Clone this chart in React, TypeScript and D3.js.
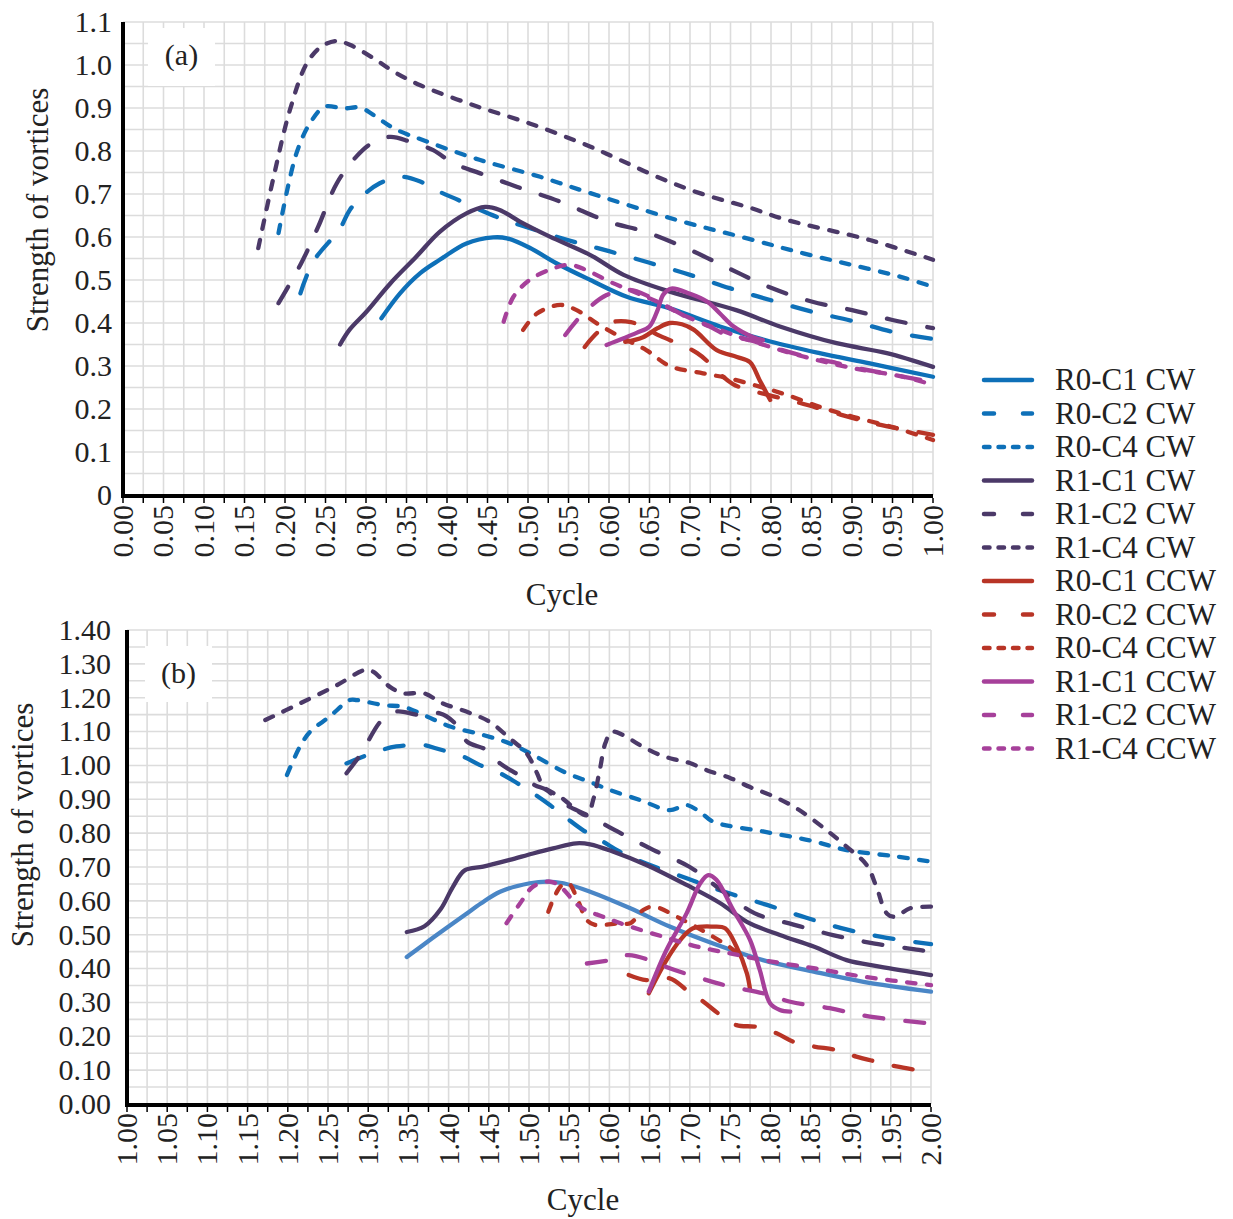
import React from 'react';
import * as d3 from 'd3';

// ---------- legend / series ----------
const seriesNames = ['R0-C1 CW', 'R0-C2 CW', 'R0-C4 CW', 'R1-C1 CW', 'R1-C2 CW', 'R1-C4 CW',
  'R0-C1 CCW', 'R0-C2 CCW', 'R0-C4 CCW', 'R1-C1 CCW', 'R1-C2 CCW', 'R1-C4 CCW'];

// ---------- panel (a) : cycle 0 - 1 ----------
const aR0C1cwX = [0.319, 0.342, 0.367, 0.391, 0.424, 0.457, 0.474, 0.502, 0.535, 0.577, 0.622, 0.675, 0.737, 0.799, 0.860, 0.922, 1.0];
const aR0C1cwY = [0.411, 0.469, 0.516, 0.547, 0.585, 0.599, 0.597, 0.575, 0.539, 0.500, 0.461, 0.434, 0.392, 0.357, 0.330, 0.306, 0.275];
const aR0C2cwX = [0.219, 0.235, 0.268, 0.280, 0.297, 0.317, 0.342, 0.367, 0.391, 0.414, 0.436, 0.461, 0.490, 0.549, 0.600, 0.650, 0.700, 0.749, 0.800, 0.851, 0.900, 0.951, 1.0];
const aR0C2cwY = [0.469, 0.543, 0.620, 0.663, 0.698, 0.725, 0.740, 0.729, 0.705, 0.686, 0.667, 0.647, 0.628, 0.593, 0.567, 0.540, 0.512, 0.481, 0.453, 0.426, 0.405, 0.379, 0.363];
const aR0C4cwX = [0.192, 0.214, 0.231, 0.249, 0.272, 0.293, 0.309, 0.334, 0.375, 0.441, 0.515, 0.572, 0.683, 0.774, 0.840, 0.900, 0.959, 1.0];
const aR0C4cwY = [0.609, 0.794, 0.865, 0.903, 0.899, 0.901, 0.884, 0.853, 0.822, 0.779, 0.740, 0.705, 0.640, 0.595, 0.562, 0.535, 0.508, 0.484];
const aR1C1cwX = [0.268, 0.280, 0.300, 0.330, 0.362, 0.391, 0.424, 0.447, 0.465, 0.490, 0.527, 0.577, 0.618, 0.675, 0.757, 0.811, 0.881, 0.943, 1.0];
const aR1C1cwY = [0.350, 0.385, 0.425, 0.492, 0.554, 0.612, 0.655, 0.670, 0.663, 0.636, 0.601, 0.558, 0.512, 0.473, 0.430, 0.392, 0.353, 0.330, 0.298];
const aR1C2cwX = [0.192, 0.220, 0.241, 0.264, 0.288, 0.307, 0.330, 0.354, 0.383, 0.408, 0.441, 0.486, 0.540, 0.600, 0.645, 0.700, 0.750, 0.800, 0.850, 0.900, 0.950, 1.0];
const aR1C2cwY = [0.446, 0.539, 0.624, 0.725, 0.787, 0.818, 0.833, 0.822, 0.802, 0.771, 0.748, 0.717, 0.682, 0.635, 0.612, 0.570, 0.525, 0.482, 0.450, 0.430, 0.407, 0.388];
const aR1C4cwX = [0.167, 0.186, 0.206, 0.227, 0.245, 0.264, 0.280, 0.309, 0.334, 0.367, 0.432, 0.502, 0.572, 0.614, 0.663, 0.712, 0.774, 0.819, 0.922, 1.0];
const aR1C4cwY = [0.574, 0.740, 0.895, 1.004, 1.043, 1.056, 1.047, 1.016, 0.985, 0.953, 0.907, 0.864, 0.814, 0.779, 0.737, 0.702, 0.668, 0.640, 0.593, 0.547];
const aR0C1ccwX = [0.620, 0.642, 0.660, 0.675, 0.690, 0.705, 0.733, 0.758, 0.774, 0.786, 0.799];
const aR0C1ccwY = [0.356, 0.367, 0.388, 0.400, 0.397, 0.384, 0.337, 0.321, 0.309, 0.267, 0.221];
const aR0C2ccwX = [0.570, 0.580, 0.601, 0.627, 0.663, 0.709, 0.753, 0.796, 0.836, 0.880, 0.930, 1.0];
const aR0C2ccwY = [0.344, 0.367, 0.400, 0.402, 0.370, 0.330, 0.258, 0.233, 0.214, 0.190, 0.165, 0.140];
const aR0C4ccwX = [0.494, 0.511, 0.540, 0.560, 0.585, 0.614, 0.646, 0.675, 0.716, 0.749, 0.786, 0.819, 0.860, 0.901, 0.950, 1.0];
const aR0C4ccwY = [0.384, 0.422, 0.442, 0.430, 0.399, 0.368, 0.337, 0.300, 0.283, 0.271, 0.252, 0.233, 0.205, 0.182, 0.158, 0.128];
const aR1C1ccwX = [0.597, 0.634, 0.650, 0.660, 0.667, 0.677, 0.700, 0.721, 0.737, 0.753, 0.778, 0.790];
const aR1C1ccwY = [0.349, 0.377, 0.392, 0.430, 0.466, 0.480, 0.468, 0.450, 0.422, 0.393, 0.367, 0.360];
const aR1C2ccwX = [0.546, 0.568, 0.597, 0.626, 0.650, 0.675, 0.696, 0.725, 0.745, 0.774, 0.799, 0.827, 0.852, 0.881, 0.907, 0.950, 1.0];
const aR1C2ccwY = [0.372, 0.422, 0.465, 0.477, 0.461, 0.435, 0.414, 0.391, 0.372, 0.360, 0.345, 0.330, 0.318, 0.307, 0.295, 0.280, 0.262];
const aR1C4ccwX = [0.470, 0.482, 0.502, 0.531, 0.552, 0.572, 0.601, 0.630, 0.659, 0.691, 0.737, 0.778, 0.840, 0.901, 0.963, 1.0];
const aR1C4ccwY = [0.403, 0.461, 0.500, 0.527, 0.535, 0.523, 0.496, 0.473, 0.450, 0.419, 0.384, 0.357, 0.322, 0.295, 0.275, 0.256];

// ---------- panel (b) : cycle 1 - 2 ----------
const bR0C1cwX = [1.348, 1.380, 1.420, 1.440, 1.464, 1.501, 1.522, 1.543, 1.576, 1.626, 1.675, 1.729, 1.791, 1.854, 1.916, 2.0];
const bR0C1cwY = [0.434, 0.490, 0.558, 0.592, 0.627, 0.652, 0.657, 0.652, 0.627, 0.578, 0.524, 0.474, 0.425, 0.391, 0.361, 0.332];
const bR0C2cwX = [1.273, 1.311, 1.335, 1.369, 1.385, 1.418, 1.439, 1.464, 1.485, 1.505, 1.526, 1.547, 1.567, 1.592, 1.613, 1.648, 1.697, 1.744, 1.796, 1.845, 1.896, 1.945, 2.0];
const bR0C2cwY = [1.006, 1.041, 1.056, 1.060, 1.050, 1.026, 1.001, 0.977, 0.948, 0.918, 0.883, 0.844, 0.809, 0.775, 0.745, 0.708, 0.666, 0.626, 0.588, 0.550, 0.515, 0.491, 0.472];
const bR0C4cwX = [1.199, 1.215, 1.228, 1.252, 1.277, 1.286, 1.319, 1.344, 1.369, 1.402, 1.443, 1.476, 1.505, 1.547, 1.576, 1.601, 1.638, 1.675, 1.696, 1.713, 1.729, 1.791, 1.854, 1.895, 1.957, 2.0];
const bR0C4cwY = [0.972, 1.055, 1.100, 1.144, 1.193, 1.193, 1.178, 1.173, 1.149, 1.115, 1.090, 1.065, 1.031, 0.977, 0.951, 0.927, 0.898, 0.868, 0.883, 0.862, 0.834, 0.805, 0.776, 0.750, 0.731, 0.716];
const bR1C1cwX = [1.348, 1.370, 1.390, 1.405, 1.420, 1.443, 1.476, 1.505, 1.530, 1.559, 1.576, 1.605, 1.646, 1.696, 1.738, 1.771, 1.812, 1.854, 1.895, 1.936, 2.0];
const bR1C1cwY = [0.508, 0.525, 0.575, 0.640, 0.690, 0.701, 0.721, 0.740, 0.755, 0.770, 0.767, 0.745, 0.706, 0.647, 0.593, 0.538, 0.499, 0.465, 0.425, 0.406, 0.381];
const bR1C2cwX = [1.273, 1.290, 1.317, 1.335, 1.364, 1.389, 1.406, 1.423, 1.447, 1.464, 1.487, 1.507, 1.522, 1.539, 1.576, 1.610, 1.655, 1.700, 1.740, 1.781, 1.829, 1.878, 1.930, 1.985, 2.0];
const bR1C2cwY = [0.977, 1.031, 1.134, 1.159, 1.149, 1.154, 1.129, 1.070, 1.046, 1.006, 0.972, 0.942, 0.927, 0.893, 0.849, 0.805, 0.750, 0.700, 0.630, 0.563, 0.530, 0.499, 0.474, 0.455, 0.449];
const bR1C4cwX = [1.172, 1.215, 1.261, 1.296, 1.306, 1.327, 1.344, 1.369, 1.393, 1.422, 1.451, 1.476, 1.497, 1.510, 1.518, 1.539, 1.572, 1.580, 1.588, 1.595, 1.603, 1.617, 1.638, 1.663, 1.684, 1.700, 1.721, 1.750, 1.775, 1.800, 1.833, 1.870, 1.895, 1.920, 1.932, 1.945, 1.955, 1.974, 2.0];
const bR1C4cwY = [1.134, 1.183, 1.237, 1.282, 1.277, 1.232, 1.213, 1.213, 1.183, 1.159, 1.129, 1.080, 1.036, 0.977, 0.937, 0.907, 0.853, 0.900, 0.986, 1.066, 1.099, 1.090, 1.060, 1.031, 1.016, 1.007, 0.986, 0.963, 0.936, 0.913, 0.873, 0.809, 0.760, 0.706, 0.642, 0.563, 0.553, 0.578, 0.583];
const bR0C1ccwX = [1.649, 1.671, 1.688, 1.704, 1.729, 1.744, 1.758, 1.771, 1.775];
const bR0C1ccwY = [0.327, 0.425, 0.484, 0.519, 0.524, 0.519, 0.465, 0.386, 0.337];
const bR0C2ccwX = [1.624, 1.646, 1.675, 1.696, 1.717, 1.738, 1.758, 1.783, 1.808, 1.829, 1.854, 1.883, 1.907, 1.932, 1.957, 1.982];
const bR0C2ccwY = [0.381, 0.366, 0.371, 0.337, 0.302, 0.263, 0.233, 0.228, 0.209, 0.184, 0.170, 0.159, 0.140, 0.125, 0.111, 0.100];
const bR0C4ccwX = [1.524, 1.539, 1.549, 1.559, 1.572, 1.582, 1.613, 1.626, 1.642, 1.655, 1.688, 1.729, 1.754, 1.767];
const bR0C4ccwY = [0.568, 0.642, 0.652, 0.612, 0.543, 0.529, 0.534, 0.534, 0.573, 0.583, 0.548, 0.494, 0.455, 0.421];
const bR1C1ccwX = [1.649, 1.671, 1.696, 1.713, 1.723, 1.733, 1.754, 1.775, 1.787, 1.800, 1.812, 1.825];
const bR1C1ccwY = [0.332, 0.455, 0.563, 0.652, 0.676, 0.662, 0.573, 0.484, 0.396, 0.297, 0.278, 0.273];
const bR1C2ccwX = [1.572, 1.601, 1.624, 1.650, 1.675, 1.721, 1.750, 1.791, 1.825, 1.874, 1.924, 2.0];
const bR1C2ccwY = [0.415, 0.425, 0.440, 0.425, 0.401, 0.366, 0.347, 0.327, 0.302, 0.283, 0.258, 0.238];
const bR1C4ccwX = [1.472, 1.489, 1.505, 1.526, 1.539, 1.563, 1.592, 1.626, 1.667, 1.709, 1.750, 1.791, 1.854, 1.916, 2.0];
const bR1C4ccwY = [0.534, 0.593, 0.642, 0.657, 0.642, 0.583, 0.553, 0.524, 0.494, 0.465, 0.445, 0.425, 0.401, 0.376, 0.351];

// ---------- tick labels ----------
const aXTickLabels = ['0.00', '0.05', '0.10', '0.15', '0.20', '0.25', '0.30', '0.35', '0.40', '0.45', '0.50', '0.55', '0.60', '0.65', '0.70', '0.75', '0.80', '0.85', '0.90', '0.95', '1.00'];
const aYTickLabels = ['0', '0.1', '0.2', '0.3', '0.4', '0.5', '0.6', '0.7', '0.8', '0.9', '1.0', '1.1'];
const bXTickLabels = ['1.00', '1.05', '1.10', '1.15', '1.20', '1.25', '1.30', '1.35', '1.40', '1.45', '1.50', '1.55', '1.60', '1.65', '1.70', '1.75', '1.80', '1.85', '1.90', '1.95', '2.00'];
const bYTickLabels = ['0.00', '0.10', '0.20', '0.30', '0.40', '0.50', '0.60', '0.70', '0.80', '0.90', '1.00', '1.10', '1.20', '1.30', '1.40'];

// ---------- styles ----------
const BLUE = '#0e70b8';
const BLUE_LIGHT = '#4a86c6';
const PURPLE = '#4b3968';
const RED = '#b83426';
const MAGENTA = '#a6409a';
const colorsA = [BLUE, BLUE, BLUE, PURPLE, PURPLE, PURPLE, RED, RED, RED, MAGENTA, MAGENTA, MAGENTA];
const colorsB = [BLUE_LIGHT, BLUE, BLUE, PURPLE, PURPLE, PURPLE, RED, RED, RED, MAGENTA, MAGENTA, MAGENTA];
const dashKinds = ['solid', 'long', 'short', 'solid', 'long', 'short', 'solid', 'long', 'short', 'solid', 'long', 'short'];
const plotDash: Record<string, string | undefined> = { solid: undefined, long: '19 22', short: '8.5 11.5' };
const legendDash: Record<string, string | undefined> = { solid: undefined, long: '10 29', short: '5.5 9' };
const FONT = '"Liberation Serif", "Times New Roman", serif';

const aSeries = [
  [aR0C1cwX, aR0C1cwY], [aR0C2cwX, aR0C2cwY], [aR0C4cwX, aR0C4cwY],
  [aR1C1cwX, aR1C1cwY], [aR1C2cwX, aR1C2cwY], [aR1C4cwX, aR1C4cwY],
  [aR0C1ccwX, aR0C1ccwY], [aR0C2ccwX, aR0C2ccwY], [aR0C4ccwX, aR0C4ccwY],
  [aR1C1ccwX, aR1C1ccwY], [aR1C2ccwX, aR1C2ccwY], [aR1C4ccwX, aR1C4ccwY],
];
const bSeries = [
  [bR0C1cwX, bR0C1cwY], [bR0C2cwX, bR0C2cwY], [bR0C4cwX, bR0C4cwY],
  [bR1C1cwX, bR1C1cwY], [bR1C2cwX, bR1C2cwY], [bR1C4cwX, bR1C4cwY],
  [bR0C1ccwX, bR0C1ccwY], [bR0C2ccwX, bR0C2ccwY], [bR0C4ccwX, bR0C4ccwY],
  [bR1C1ccwX, bR1C1ccwY], [bR1C2ccwX, bR1C2ccwY], [bR1C4ccwX, bR1C4ccwY],
];

type PanelProps = {
  left: number; right: number; top: number; bottom: number;
  xDom: [number, number]; yDom: [number, number]; yStep: number;
  xLabels: string[]; yLabels: string[]; series: number[][][]; colors: string[];
  tag: string; tagBox: [number, number, number, number]; tagY: number;
  yTitleX: number; yTitleY: number; xTitleX: number; xTitleY: number; xLabelTop: number; yLabelRight: number;
};

function Panel(p: PanelProps) {
  const x = d3.scaleLinear().domain(p.xDom).range([p.left, p.right]);
  const y = d3.scaleLinear().domain(p.yDom).range([p.bottom, p.top]);
  const vGrid = d3.range(0, 41).map(i => p.xDom[0] + i * 0.025);
  const hGrid = d3.range(0, Math.round((p.yDom[1] - p.yDom[0]) / 0.05) + 1).map(i => p.yDom[0] + i * 0.05);
  const line = d3.line<[number, number]>().x(d => x(d[0])).y(d => y(d[1])).curve(d3.curveCatmullRom.alpha(0.5));
  const [bx0, by0, bx1, by1] = p.tagBox;
  return (
    <g>
      {vGrid.map((v, i) => (
        <line key={'v' + i} x1={x(v)} x2={x(v)} y1={y(p.yDom[1])} y2={y(p.yDom[0])} stroke="#dcdcdc" strokeWidth={1.6} />
      ))}
      {hGrid.map((v, i) => (
        <line key={'h' + i} x1={x(p.xDom[0])} x2={x(p.xDom[1])} y1={y(v)} y2={y(v)} stroke="#dcdcdc" strokeWidth={1.6} />
      ))}
      <rect x={bx0} y={by0} width={bx1 - bx0} height={by1 - by0} fill="#fff" />
      <text x={(bx0 + bx1) / 2} y={p.tagY} dy="0.33em" textAnchor="middle" fontFamily={FONT} fontSize={30} fill="#222">{p.tag}</text>
      {p.series.map((s, i) => {
        const pts = s[0].map((cx, j) => [cx, s[1][j]] as [number, number]);
        return (
          <path key={'s' + i} d={line(pts) || ''} fill="none" stroke={p.colors[i]} strokeWidth={4.3}
            strokeDasharray={plotDash[dashKinds[i]]} strokeLinecap="round" strokeLinejoin="round" />
        );
      })}
      {/* axes */}
      <line x1={x(p.xDom[0])} x2={x(p.xDom[0])} y1={y(p.yDom[1])} y2={y(p.yDom[0]) + 2} stroke="#000" strokeWidth={4} />
      <line x1={x(p.xDom[0]) - 2} x2={x(p.xDom[1])} y1={y(p.yDom[0]) + 1} y2={y(p.yDom[0]) + 1} stroke="#000" strokeWidth={4} />
      {vGrid.map((v, i) => (
        <line key={'t' + i} x1={x(v)} x2={x(v)} y1={y(p.yDom[0]) + 3} y2={y(p.yDom[0]) + 8} stroke="#000" strokeWidth={1.5} />
      ))}
      {p.xLabels.map((lab, i) => (
        <text key={'xl' + i} transform={`translate(${x(p.xDom[0] + i * 0.05)},${p.xLabelTop}) rotate(-90)`}
          textAnchor="end" dy="0.33em" fontFamily={FONT} fontSize={30} fill="#222">{lab}</text>
      ))}
      {p.yLabels.map((lab, i) => (
        <text key={'yl' + i} x={p.yLabelRight} y={y(p.yDom[0] + i * p.yStep)} dy="0.33em"
          textAnchor="end" fontFamily={FONT} fontSize={30} fill="#222">{lab}</text>
      ))}
      <text transform={`translate(${p.yTitleX},${p.yTitleY}) rotate(-90)`} textAnchor="middle" dy="0.33em"
        fontFamily={FONT} fontSize={31} fill="#222">Strength of vortices</text>
      <text x={p.xTitleX} y={p.xTitleY} textAnchor="middle" dy="0.33em" fontFamily={FONT} fontSize={31} fill="#222">Cycle</text>
    </g>
  );
}

export default function App() {
  const legendTop = 380;
  const legendStep = 33.5;
  return (
    <svg width={1233} height={1219} style={{ position: 'absolute', left: 0, top: 0, background: '#fff' }}>
      <rect x={0} y={0} width={1233} height={1219} fill="#fff" />
      <Panel left={123} right={933} top={22} bottom={495} xDom={[0, 1]} yDom={[0, 1.1]} yStep={0.1}
        xLabels={aXTickLabels} yLabels={aYTickLabels} series={aSeries} colors={colorsA}
        tag="(a)" tagBox={[148, 28, 215, 86]} tagY={55} yTitleX={38} yTitleY={210} xTitleX={562} xTitleY={595} xLabelTop={505} yLabelRight={112} />
      <Panel left={127} right={931} top={630} bottom={1104} xDom={[1, 2]} yDom={[0, 1.4]} yStep={0.1}
        xLabels={bXTickLabels} yLabels={bYTickLabels} series={bSeries} colors={colorsB}
        tag="(b)" tagBox={[145, 646, 212, 702]} tagY={673} yTitleX={23} yTitleY={825} xTitleX={583} xTitleY={1200} xLabelTop={1113} yLabelRight={111} />
      {seriesNames.map((name, i) => {
        const cy = legendTop + i * legendStep;
        return (
          <g key={'lg' + i}>
            <line x1={984} x2={1032} y1={cy} y2={cy} stroke={colorsA[i]} strokeWidth={4.5}
              strokeDasharray={legendDash[dashKinds[i]]} strokeLinecap="round" />
            <text x={1055} y={cy} dy="0.33em" fontFamily={FONT} fontSize={31} fill="#222">{name}</text>
          </g>
        );
      })}
    </svg>
  );
}
